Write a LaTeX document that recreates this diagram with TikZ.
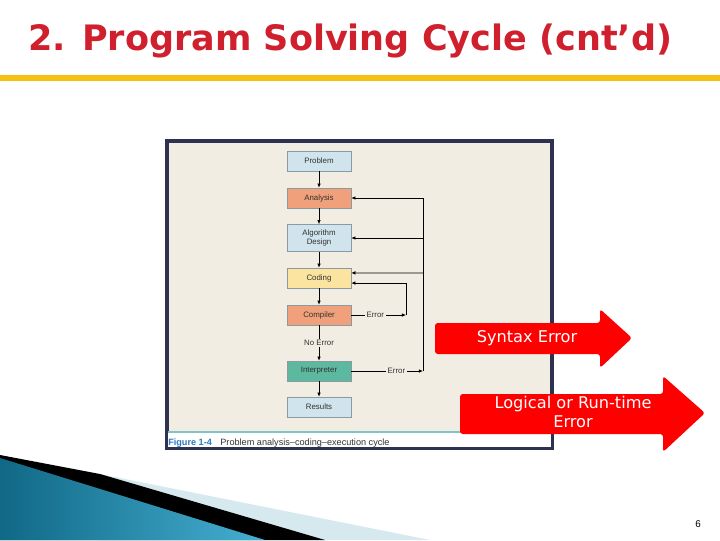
\documentclass[tikz,border=0pt]{standalone}
\usepackage{fontspec}
\setmainfont{Liberation Sans}
\newfontfamily\arrowfont{DejaVu Sans}
\usetikzlibrary{arrows.meta,positioning}
\definecolor{titlered}{HTML}{D0202E}
\definecolor{baryellow}{HTML}{F5C010}
\definecolor{framec}{HTML}{2E3150}
\definecolor{figbg}{HTML}{F1EDE3}
\definecolor{boxblue}{HTML}{CFE4EC}
\definecolor{boxorange}{HTML}{F0A07A}
\definecolor{boxyellow}{HTML}{FBE3A0}
\definecolor{boxteal}{HTML}{5DB8A0}
\definecolor{boxline}{HTML}{8A9AA0}
\definecolor{figtext}{HTML}{333333}
\definecolor{capblue}{HTML}{2A7ABF}
\definecolor{tealline}{HTML}{7FC4C8}
\definecolor{swoosh}{HTML}{D6E9EF}
\begin{document}
\begin{tikzpicture}[x=0.025cm,y=-0.025cm,
    box/.style={draw=boxline,line width=0.4pt,minimum width=45.5pt,minimum height=14.2pt,
      inner sep=1pt,align=center,text=figtext,font=\fontsize{5.6}{6.3}\selectfont},
    lbl/.style={fill=figbg,inner sep=1.2pt,text=figtext,font=\fontsize{5.6}{6.3}\selectfont},
    flow/.style={line width=0.5pt,-{Latex[length=3pt,width=2.6pt]}}]
\useasboundingbox (0,0) rectangle (720,540);
\fill[white] (0,0) rectangle (720,540);

% title and bar
\node[anchor=base west,inner sep=0,text=titlered,font=\arrowfont\bfseries\fontsize{24.9}{30}\selectfont] (title) at (28,50) {2. Program Solving Cycle (cnt’d)};
\fill[baryellow] (0,75) rectangle (720,81);

% figure frame
\draw[line width=2.2pt,draw=framec,fill=figbg] (167,141) rectangle (552,448);
\fill[white] (168,432) rectangle (551,446.5);
\draw[tealline,line width=0.8pt] (168,432) -- (551,432);
\node[anchor=base west,inner sep=0,font=\fontsize{6.5}{7}\selectfont] (cap) at (168,445)
  {\textcolor{capblue}{\bfseries Figure 1-4}\hspace{6pt}\textcolor{figtext}{Problem analysis–coding–execution cycle}};

% cycle
\node[box,fill=boxblue] (problem) at (319,161) {Problem};
\node[box,fill=boxorange] (analysis) at (319,198) {Analysis};
\node[box,fill=boxblue,minimum height=19.2pt] (algo) at (319,238) {Algorithm\\Design};
\node[box,fill=boxyellow] (coding) at (319,278) {Coding};
\node[box,fill=boxorange] (compiler) at (319,315) {Compiler};
\node[box,fill=boxteal] (interp) at (319,371) {Interpreter};
\node[box,fill=boxblue] (results) at (319,407) {Results};

\coordinate (e1) at (423,371);
\coordinate (e2) at (406,315);
\coordinate (c1) at (423,273);

\draw[flow] (problem) -- (analysis);
\draw[flow] (analysis) -- (algo);
\draw[flow] (algo) -- (coding);
\draw[flow] (coding) -- (compiler);
\draw[flow] (compiler) -- node[lbl] {No Error} (interp);
\draw[flow] (interp) -- (results);

\draw[flow] (compiler.east) -- node[lbl,pos=0.44] {Error} (e2);
\draw[flow] (e2) |- ([yshift=-3.6pt]coding.east);
\draw[flow] (interp.east) -- node[lbl,pos=0.63] {Error} (e1);
\draw[flow] (e1) |- (analysis.east);
\draw[flow] (e1 |- algo.east) -- (algo.east);
\draw[flow] (c1) -- ([yshift=3.6pt]coding.east);

% red call-outs
\fill[red,rounded corners=2pt] (435,323) -- (600,323) -- (600,309) -- (632,338) -- (600,368) -- (600,354) -- (435,354) -- cycle;
\node[text=white,font=\arrowfont\fontsize{11.5}{13}\selectfont] (syntax) at (527,338) {Syntax Error};
\fill[red,rounded corners=2pt] (460,394) -- (663,394) -- (663,376) -- (705,413) -- (663,452) -- (663,434) -- (460,434) -- cycle;
\node[text=white,align=center,font=\arrowfont\fontsize{11.5}{13.5}\selectfont] (logic) at (573,412) {Logical or Run-time\\Error};

% corner swoosh
\fill[swoosh] (100,474) -- (430,540) -- (100,540) -- cycle;
\fill[black] (0,455) -- (100,474) -- (325,540) -- (0,540) -- cycle;
\shade[left color={rgb,255:red,16;green,104;blue,134},right color={rgb,255:red,70;green,175;blue,210}] (0,458) -- (265,540) -- (0,540) -- cycle;

\node[font=\fontsize{7}{8}\selectfont] (page) at (698,524) {6};
\end{tikzpicture}
\end{document}
